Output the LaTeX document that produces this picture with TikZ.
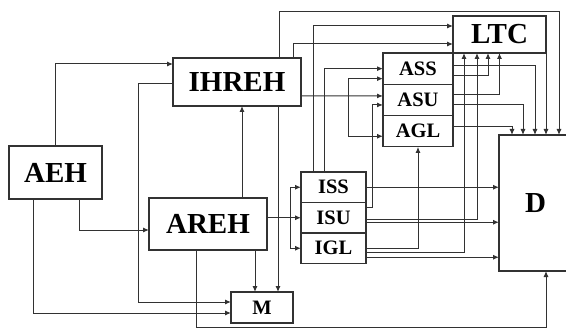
\documentclass[tikz,border=0pt]{standalone}
\usepackage{fontspec}
\setmainfont{Liberation Serif}
\usetikzlibrary{positioning,arrows.meta}
\definecolor{linecolor}{RGB}{50,50,50}

\begin{document}
\begin{tikzpicture}[x=1pt,y=-1pt,
bigbox/.style={draw=linecolor,line width=1.2pt,outer sep=0pt,font=\fontsize{29}{29}\selectfont\bfseries},
smallbox/.style={draw=linecolor,line width=1.2pt,outer sep=0pt,font=\fontsize{20.5}{20.5}\selectfont\bfseries},
astack/.style={smallbox,minimum width=70pt,minimum height=31.3pt},
istack/.style={smallbox,minimum width=65pt,minimum height=30.5pt},
arr/.style={-{Latex[length=6pt,width=5pt]},line width=1pt,draw=linecolor}]
\useasboundingbox (0,0) rectangle (566,329);
% blocks
\node[bigbox,minimum width=93pt,minimum height=53pt] (AEH) at (55.5,172.5) {AEH};
\node[bigbox,minimum width=128pt,minimum height=48pt] (IHREH) at (237,82) {IHREH};
\node[bigbox,minimum width=118pt,minimum height=52pt] (AREH) at (208,224) {AREH};
\node[smallbox,minimum width=62pt,minimum height=31pt] (M) at (262,307.5) {M};
\node[bigbox,minimum width=93pt,minimum height=37pt] (LTC) at (499.5,34.5) {LTC};
\node[bigbox,minimum width=73pt,minimum height=136pt] (D) at (535.5,203) {D};
\node[astack] (ASS) at (418,68.65) {ASS};
\node[astack,below=0pt of ASS] (ASU) {ASU};
\node[astack,below=0pt of ASU] (AGL) {AGL};
\node[istack] (ISS) at (333.5,187.25) {ISS};
\node[istack,below=0pt of ISS] (ISU) {ISU};
\node[istack,below=0pt of ISU] (IGL) {IGL};
\coordinate (ibus) at ([xshift=-11pt]ISU.west);
\coordinate (abus) at ([xshift=-35pt,yshift=4pt]ASU.west);
% AEH outputs
\draw[arr] (AEH.north) |- ([yshift=18pt]IHREH.west);
\draw[arr] ([xshift=23.5pt]AEH.south) |- ([yshift=-6pt]AREH.west);
\draw[arr] ([xshift=-22pt]AEH.south) |- ([yshift=-5.5pt]M.west);
% IHREH outputs
\draw[arr] ([yshift=-2pt]IHREH.west) -| (138,302) -- ([yshift=5.5pt]M.west);
\draw[arr] ([xshift=16pt]M.north |- IHREH.south) -- ([xshift=16pt]M.north);
\draw[arr] ([xshift=42pt]IHREH.north) |- (559,12) -- ([xshift=23.5pt]D.north);
\draw[arr] ([xshift=56pt]IHREH.north) |- ([yshift=-9.5pt]LTC.west);
\draw[arr] ([yshift=-14pt]IHREH.east) -- (abus -| ASU.west);
\draw[arr] (abus) |- ([yshift=-10pt]ASS.west);
\draw[arr] (abus) |- ([yshift=-5pt]AGL.west);
% AREH outputs
\draw[arr] ([xshift=34pt]AREH.north) -- ([xshift=34pt]AREH.north |- IHREH.south);
\draw[arr] ([xshift=-7pt]M.north |- AREH.south) -- ([xshift=-7pt]M.north);
\draw[arr] ([xshift=-12pt]AREH.south) -- ++(0,77) -| ([xshift=10.5pt]D.south);
\draw[arr] (AREH.east |- ISU.west) -- (ISU.west);
\draw[arr] (ibus) |- (ISS.west);
\draw[arr] (ibus) |- (IGL.west);
% I-stack outputs
\draw[arr] ([xshift=-20.5pt]ISS.north) |- ([yshift=8.5pt]LTC.west);
\draw[arr] ([xshift=-9.5pt]ISS.north) |- (ASS.west);
\draw[arr] (ISS.east) -- (ISS.east -| D.west);
\draw[arr] ([yshift=10pt]ISU.east) -- ++(6,0) |- ([yshift=-5pt]ASU.west);
\draw[arr] ([yshift=-1.25pt]ISU.east) -| ([xshift=-22.5pt]LTC.south);
\draw[arr] ([yshift=-4.5pt]ISU.east) -- ([yshift=-4.5pt]ISU.east -| D.west);
\draw[arr] (IGL.east) -| (AGL.south);
\draw[arr] ([yshift=-4pt]IGL.east) -| ([xshift=-35.5pt]LTC.south);
\draw[arr] ([yshift=-9pt]IGL.east) -- ([yshift=-9pt]IGL.east -| D.west);
% A-stack outputs
\draw[arr] ([yshift=3.5pt]ASS.east) -| ([xshift=-0.5pt]D.north);
\draw[arr] ([yshift=-6.5pt]ASS.east) -| ([xshift=-11.5pt]LTC.south);
\draw[arr] ([yshift=5pt]ASU.east) -| (LTC.south);
\draw[arr] ([yshift=-5pt]ASU.east) -| ([xshift=-12.5pt]D.north);
\draw[arr] ([yshift=5pt]AGL.east) -| ([xshift=-23.5pt]D.north);
% LTC output
\draw[arr] (LTC.south east) -- (LTC.south east |- D.north);
\end{tikzpicture}
\end{document}
